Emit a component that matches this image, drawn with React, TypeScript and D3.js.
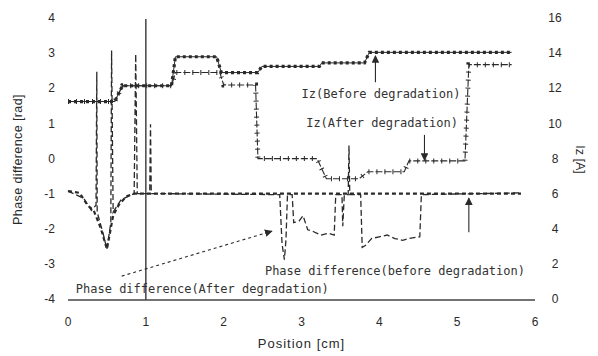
import React from "react";
import * as d3 from "d3";

type Pt = [number, number];

// Axis ticks
const xTicks = [0, 1, 2, 3, 4, 5, 6];
const phaseTicks = [4, 3, 2, 1, 0, -1, -2, -3, -4];
const izTicks = [16, 14, 12, 10, 8, 6, 4, 2, 0];

// Iz [A] before degradation (position cm, current A)
const izBefore: Pt[] = [
  [0, 11.3], [0.6, 11.3], [0.7, 12.2], [1.33, 12.2], [1.38, 13.85], [1.91, 13.85],
  [1.97, 12.95], [2.44, 12.95], [2.49, 13.3], [3.23, 13.3], [3.26, 13.5],
  [3.81, 13.5], [3.87, 14.1], [5.7, 14.1],
];

// Iz [A] after degradation
const izAfter: Pt[] = [
  [0, 11.3], [0.6, 11.3], [0.7, 12.2], [1.33, 12.2], [1.38, 12.95], [1.95, 12.95],
  [2.0, 12.24], [2.41, 12.24], [2.44, 8.05], [3.2, 8.05], [3.32, 6.9],
  [3.74, 6.9], [3.85, 7.3], [4.32, 7.3], [4.38, 7.92], [5.1, 7.92],
  [5.15, 13.4], [5.7, 13.4],
];

// Phase difference [rad] before degradation
const phaseBefore: Pt[] = [
  [0, -0.9], [0.15, -0.95], [0.25, -1.3], [0.33, -1.45], [0.42, -1.95],
  [0.5, -2.55], [0.58, -1.6], [0.65, -1.3], [0.75, -1.05], [0.85, -0.97],
  [5.82, -0.97],
];

// Phase difference [rad] after degradation
const phaseAfter: Pt[] = [
  [0, -0.9], [0.2, -1.1], [0.3, -1.45], [0.36, -1.3], [0.37, 2.5], [0.375, -1.5],
  [0.45, -2.1], [0.5, -2.55], [0.55, -1.8], [0.56, 3.1], [0.58, -1.5],
  [0.68, -1.15], [0.85, -0.97], [0.87, 3.0], [0.89, -0.97], [1.05, -0.97],
  [1.06, 1.0], [1.07, -0.97], [2.72, -1.0], [2.75, -2.4], [2.78, -2.85],
  [2.8, -2.3], [2.82, -1.0], [2.88, -1.0], [2.9, -1.8], [2.97, -1.75],
  [3.02, -1.6], [3.08, -2.0], [3.15, -2.05], [3.25, -2.15], [3.35, -2.1],
  [3.42, -2.15], [3.44, -1.0], [3.52, -1.0], [3.53, -1.9], [3.55, -1.0],
  [3.6, -1.0], [3.61, 0.4], [3.62, -1.0], [3.76, -1.0], [3.78, -2.5],
  [3.82, -2.45], [3.9, -2.25], [4.0, -2.2], [4.1, -2.15], [4.2, -2.25],
  [4.3, -2.3], [4.38, -2.25], [4.52, -2.2], [4.54, -1.0], [5.82, -0.95],
];

// Annotation texts, anchored in (cm, rad)
const labels: { text: string; x: number; y: number }[] = [
  { text: "Iz(Before degradation)", x: 3.0, y: 1.85 },
  { text: "Iz(After degradation)", x: 3.06, y: 1.02 },
  { text: "Phase difference(before degradation)", x: 2.53, y: -3.18 },
  { text: "Phase difference(After degradation)", x: 0.1, y: -3.69 },
];

// Arrows in (cm, rad): from tail to head
const arrows: { x1: number; y1: number; x2: number; y2: number; dotted: boolean }[] = [
  { x1: 3.95, y1: 2.2, x2: 3.95, y2: 2.95, dotted: false },
  { x1: 4.58, y1: 0.7, x2: 4.58, y2: -0.02, dotted: false },
  { x1: 5.15, y1: -2.07, x2: 5.15, y2: -1.1, dotted: false },
  { x1: 0.69, y1: -3.32, x2: 2.62, y2: -2.04, dotted: true },
];

const W = 598;
const H = 356;

export default function App() {
  const x = d3.scaleLinear().domain([0, 6]).range([68, 535]);
  const yL = d3.scaleLinear().domain([-4, 4]).range([300, 19]);
  const yR = d3.scaleLinear().domain([0, 16]).range([300, 19]);

  const lineL = d3.line<Pt>().x((d) => x(d[0])).y((d) => yL(d[1]));
  const lineR = d3.line<Pt>().x((d) => x(d[0])).y((d) => yR(d[1]));

  const ink = "#2a2a2a";
  const sans = "'Liberation Sans', Arial, sans-serif";
  const mono = "'DejaVu Sans Mono', monospace";

  return (
    <svg
      width={W}
      height={H}
      viewBox={`0 0 ${W} ${H}`}
      style={{ position: "absolute", left: 0, top: 0, background: "#fff" }}
    >
      <defs>
        <marker id="head" viewBox="0 0 10 10" refX="9" refY="5" markerWidth="7" markerHeight="7" orient="auto">
          <path d="M0,0 L10,5 L0,10 z" fill={ink} />
        </marker>
      </defs>

      {/* x-axis baseline and the 1 cm reference line */}
      <line x1={x(0)} x2={x(6)} y1={yL(-4)} y2={yL(-4)} stroke="#444" strokeWidth={1.6} />
      <line x1={x(1)} x2={x(1)} y1={yL(4)} y2={yL(-4)} stroke="#444" strokeWidth={1.5} />

      {/* Phase difference curves */}
      <path d={lineL(phaseAfter) ?? ""} fill="none" stroke={ink} strokeWidth={1.3} strokeDasharray="6,3" />
      <path d={lineL(phaseBefore) ?? ""} fill="none" stroke={ink} strokeWidth={2.2} strokeDasharray="4,3" />

      {/* Iz after degradation: thin line with tick markers */}
      <path d={lineR(izAfter) ?? ""} fill="none" stroke={ink} strokeWidth={1.1} strokeDasharray="7,2" />
      <path d={lineR(izAfter) ?? ""} fill="none" stroke={ink} strokeWidth={5} strokeDasharray="1,7" />

      {/* Iz before degradation: square markers */}
      <path d={lineR(izBefore) ?? ""} fill="none" stroke={ink} strokeWidth={1} />
      <path d={lineR(izBefore) ?? ""} fill="none" stroke={ink} strokeWidth={3.2} strokeDasharray="3,3" />

      {/* Annotation arrows */}
      {arrows.map((a, i) => (
        <line
          key={i}
          x1={x(a.x1)}
          y1={yL(a.y1)}
          x2={x(a.x2)}
          y2={yL(a.y2)}
          stroke={ink}
          strokeWidth={1.1}
          strokeDasharray={a.dotted ? "3,3" : undefined}
          markerEnd="url(#head)"
        />
      ))}

      {/* Annotation labels */}
      {labels.map((l, i) => (
        <text
          key={i}
          x={x(l.x)}
          y={yL(l.y)}
          dominantBaseline="middle"
          fontFamily={mono}
          fontSize={12}
          fill="#333"
        >
          {l.text}
        </text>
      ))}

      {/* Left axis tick labels */}
      {phaseTicks.map((t) => (
        <text key={t} x={55} y={yL(t)} textAnchor="end" dominantBaseline="middle" fontFamily={sans} fontSize={12} fill={ink}>
          {t}
        </text>
      ))}

      {/* Right axis tick labels */}
      {izTicks.map((t) => (
        <text key={t} x={555} y={yR(t)} textAnchor="middle" dominantBaseline="middle" fontFamily={sans} fontSize={12} fill={ink}>
          {t}
        </text>
      ))}

      {/* Bottom axis tick labels */}
      {xTicks.map((t) => (
        <text key={t} x={x(t)} y={323} textAnchor="middle" dominantBaseline="middle" fontFamily={sans} fontSize={12} fill={ink}>
          {t}
        </text>
      ))}

      {/* Axis titles */}
      <text
        transform={`translate(19,${yL(0)}) rotate(-90)`}
        textAnchor="middle"
        dominantBaseline="middle"
        fontFamily={sans}
        fontSize={12.5}
        letterSpacing={0.4}
        fill={ink}
      >
        Phase difference [rad]
      </text>
      <text
        transform={`translate(579,${yR(8)}) rotate(90)`}
        textAnchor="middle"
        dominantBaseline="middle"
        fontFamily={sans}
        fontSize={12.5}
        fill={ink}
      >
        Iz [A]
      </text>
      <text x={x(3)} y={345} textAnchor="middle" dominantBaseline="middle" fontFamily={sans} fontSize={13} letterSpacing={1} fill={ink}>
        Position [cm]
      </text>
    </svg>
  );
}
